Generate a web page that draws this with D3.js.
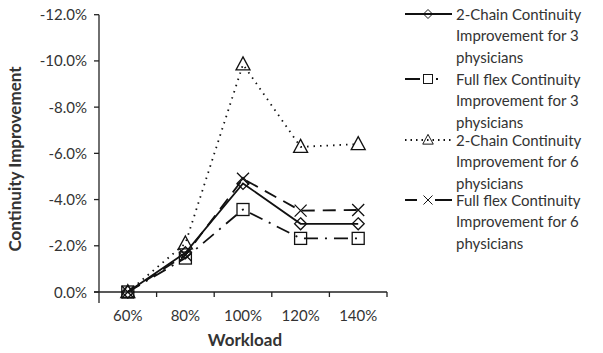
<!DOCTYPE html>
<html><head><meta charset="utf-8">
<script src="https://cdn.jsdelivr.net/npm/d3@7"></script>
<style>body{margin:0;background:#fff}svg{display:block}text{font-family:Lato,"Open Sans",sans-serif;fill:#333}</style>
</head><body><svg id="c" width="603" height="353"></svg>
<script>
const categories = ["60%","80%","100%","120%","140%"];
const yTicks = [0,-2,-4,-6,-8,-10,-12];
const s2Chain3 = [0,-1.7,-4.7,-2.95,-2.95];
const sFlex3 = [0,-1.47,-3.57,-2.32,-2.32];
const s2Chain6 = [0,-2.1,-9.85,-6.28,-6.4];
const sFlex6 = [0,-1.6,-4.9,-3.52,-3.55];
const seriesNames = [
  ["2-Chain Continuity","Improvement for 3","physicians"],
  ["Full flex Continuity","Improvement for 3","physicians"],
  ["2-Chain Continuity","Improvement for 6","physicians"],
  ["Full flex Continuity","Improvement for 6","physicians"]
];
const series = [
  {vals:s2Chain3, dash:null, legDash:null, marker:"diamond"},
  {vals:sFlex3, dash:"14,7,2,7", legDash:"15,16,2,40", marker:"square"},
  {vals:s2Chain6, dash:"1.5,5", legDash:"1.5,4", marker:"triangle"},
  {vals:sFlex6, dash:"13,8", legDash:"12,18,20", marker:"x"}
];
const svg = d3.select("#c");
const x = d3.scaleBand().domain(categories).range([99,387]);
const y = d3.scaleLinear().domain([0,-12]).range([292,14.7]);

const fmt = d3.formatLocale({decimal:".",thousands:",",grouping:[3],currency:["",""],minus:"-"}).format(".1f");
// y axis
svg.append("line").attr("x1",99).attr("x2",99).attr("y1",y(-12)).attr("y2",303).attr("stroke","#222").attr("stroke-width",1.3);
yTicks.forEach(t=>{
  svg.append("line").attr("x1",94).attr("x2",99).attr("y1",y(t)).attr("y2",y(t)).attr("stroke","#222").attr("stroke-width",1.3);
  svg.append("text").attr("x",87).attr("y",y(t)+5.5).attr("text-anchor","end").attr("font-size",15).text(fmt(t)+"%");
});
// x axis
svg.append("line").attr("x1",94).attr("x2",387).attr("y1",y(0)).attr("y2",y(0)).attr("stroke","#222").attr("stroke-width",1.3);
categories.forEach((c,i)=>{
  if(i>0){ const bx=x(c); svg.append("line").attr("x1",bx).attr("x2",bx).attr("y1",y(0)).attr("y2",y(0)+5).attr("stroke","#222").attr("stroke-width",1.3); }
  svg.append("text").attr("x",x(c)+x.bandwidth()/2).attr("y",321).attr("text-anchor","middle").attr("font-size",15).text(c);
});
svg.append("line").attr("x1",387).attr("x2",387).attr("y1",y(0)).attr("y2",y(0)+5).attr("stroke","#222").attr("stroke-width",1.3);

svg.append("text").attr("x",245).attr("y",346).attr("text-anchor","middle").attr("font-size",17).attr("font-weight","bold").text("Workload");
svg.append("text").attr("transform","translate(21,159) rotate(-90)").attr("text-anchor","middle").attr("font-size",17).attr("font-weight","bold").text("Continuity Improvement");

function marker(g,type,cx,cy){
  const st={fill:"none",stroke:"#111","stroke-width":1.3};
  let el;
  if(type==="diamond") el=g.append("path").attr("d",`M${cx},${cy-6}L${cx+6},${cy}L${cx},${cy+6}L${cx-6},${cy}Z`);
  else if(type==="square") el=g.append("rect").attr("x",cx-6).attr("y",cy-6).attr("width",12).attr("height",12);
  else if(type==="triangle") el=g.append("path").attr("d",`M${cx},${cy-7.5}L${cx+7},${cy+5.5}L${cx-7},${cy+5.5}Z`);
  else el=g.append("path").attr("d",`M${cx-6},${cy-6}L${cx+6},${cy+6}M${cx+6},${cy-6}L${cx-6},${cy+6}`);
  Object.entries(st).forEach(([k,v])=>el.attr(k,v));
}
const line = d3.line().x((d,i)=>x(categories[i])+x.bandwidth()/2).y(d=>y(d));
series.forEach(s=>{
  const g=svg.append("g");
  g.append("path").attr("d",line(s.vals)).attr("fill","none").attr("stroke","#111").attr("stroke-width",1.8)
   .attr("stroke-dasharray",s.dash);
  s.vals.forEach((v,i)=>marker(g,s.marker,x(categories[i])+x.bandwidth()/2,y(v)));
});

// legend
const legY=[14,79,140,200];
series.forEach((s,k)=>{
  const g=svg.append("g");
  const ly=legY[k];
  g.append("path").attr("d",`M405,${ly}H452`).attr("stroke","#111").attr("stroke-width",1.8).attr("fill","none").attr("stroke-dasharray",s.legDash);
  const lg=g.append("g").attr("transform",`translate(428,${ly}) scale(0.75) translate(-428,${-ly})`);
  marker(lg,s.marker,428,ly);
  seriesNames[k].forEach((t,j)=>{
    g.append("text").attr("x",456).attr("y",ly+5.5+j*21.5).attr("font-size",15).text(t);
  });
});
</script></body></html>
